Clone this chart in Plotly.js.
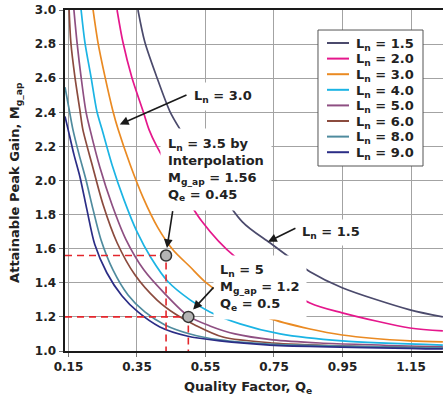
<!DOCTYPE html>
<html><head><meta charset="utf-8">
<script src="https://cdn.plot.ly/plotly-3.0.1.min.js"></script>
<style>html,body{margin:0;padding:0;background:#fff;} #chart{width:443px;height:401px;}</style>
</head><body><div id="chart"></div>
<script>
// Ln values (legend)
const lnNames = ['1.5', '2.0', '3.0', '4.0', '5.0', '6.0', '8.0', '9.0'];
const lnColors = ['#4b4a6c', '#e5178c', '#ea8a22', '#1bb4e4', '#8e4f82', '#8b4b3e', '#4f8b9e', '#2b2d86'];

// Quality factor Qe / attainable peak gain Mg_ap
const qe_15 = [0.353, 0.373, 0.408, 0.446, 0.476, 0.657, 0.738, 0.797, 0.855, 0.949, 1.147, 1.243];
const mg_15 = [3.0, 2.812, 2.606, 2.406, 2.300, 1.759, 1.635, 1.547, 1.465, 1.371, 1.241, 1.200];

const qe_20 = [0.292, 0.309, 0.335, 0.368, 0.385, 0.408, 0.540, 0.636, 0.855, 0.949, 1.147, 1.243];
const mg_20 = [3.0, 2.812, 2.606, 2.406, 2.300, 2.200, 1.759, 1.553, 1.282, 1.224, 1.135, 1.118];

const qe_30 = [0.222, 0.236, 0.257, 0.280, 0.295, 0.330, 0.368, 0.411, 0.455, 0.505, 0.549, 0.622, 0.733, 0.855, 0.949, 1.147, 1.243];
const mg_30 = [3.0, 2.812, 2.606, 2.406, 2.300, 2.094, 1.900, 1.724, 1.594, 1.494, 1.406, 1.300, 1.194, 1.129, 1.094, 1.059, 1.053];

const qe_40 = [0.187, 0.198, 0.216, 0.233, 0.248, 0.277, 0.312, 0.350, 0.391, 0.441, 0.505, 0.563, 0.651, 0.768, 0.949, 1.243];
const mg_40 = [3.0, 2.812, 2.606, 2.406, 2.300, 2.094, 1.888, 1.700, 1.547, 1.406, 1.300, 1.229, 1.159, 1.100, 1.059, 1.035];

const qe_50 = [0.166, 0.175, 0.187, 0.201, 0.213, 0.242, 0.277, 0.318, 0.370, 0.429, 0.499, 0.563, 0.636, 0.747, 0.884, 1.243];
const mg_50 = [3.0, 2.812, 2.606, 2.406, 2.300, 2.076, 1.859, 1.653, 1.476, 1.341, 1.206, 1.147, 1.100, 1.065, 1.047, 1.024];

const qe_60 = [0.152, 0.157, 0.169, 0.184, 0.192, 0.219, 0.251, 0.292, 0.344, 0.408, 0.461, 0.519, 0.601, 0.747, 0.972, 1.243];
const mg_60 = [3.0, 2.812, 2.606, 2.406, 2.300, 2.094, 1.859, 1.635, 1.447, 1.300, 1.218, 1.153, 1.082, 1.047, 1.029, 1.018];

const qe_80 = [0.140, 0.151, 0.163, 0.181, 0.201, 0.222, 0.245, 0.280, 0.324, 0.373, 0.432, 0.505, 0.592, 0.738, 1.243];
const mg_80 = [2.547, 2.429, 2.300, 2.153, 2.006, 1.829, 1.653, 1.476, 1.329, 1.229, 1.153, 1.100, 1.065, 1.041, 1.018];

const qe_90 = [0.140, 0.149, 0.166, 0.184, 0.204, 0.227, 0.262, 0.306, 0.353, 0.417, 0.496, 0.592, 0.738, 1.243];
const mg_90 = [2.376, 2.300, 2.153, 2.018, 1.829, 1.624, 1.459, 1.324, 1.229, 1.141, 1.088, 1.059, 1.035, 1.012];

// highlighted operating points
const pointQe = [0.435, 0.50];
const pointMg = [1.56, 1.20];

// axes
const xTicks = [0.15, 0.35, 0.55, 0.75, 0.95, 1.15];
const xTickText = ['0.15', '0.35', '0.55', '0.75', '0.95', '1.15'];
const yTicks = [1.0, 1.2, 1.4, 1.6, 1.8, 2.0, 2.2, 2.4, 2.6, 2.8, 3.0];
const xMin = 0.14, xMax = 1.2434, yMin = 1.0, yMax = 3.0;

const allQe = [qe_15, qe_20, qe_30, qe_40, qe_50, qe_60, qe_80, qe_90];
const allMg = [mg_15, mg_20, mg_30, mg_40, mg_50, mg_60, mg_80, mg_90];

const FONT = 'DejaVu Sans';
const TXT = '#222';

const traces = [];
for (let i = 0; i < lnNames.length; i++) {
  traces.push({
    type: 'scatter', mode: 'lines', showlegend: false,
    x: allQe[i], y: allMg[i],
    name: 'L<sub>n</sub> = ' + lnNames[i],
    line: {color: lnColors[i], width: 1.7, shape: 'spline', smoothing: 0.8}
  });
}
// red dashed guide lines
for (let k = 0; k < pointQe.length; k++) {
  traces.push({
    type: 'scatter', mode: 'lines', showlegend: false, hoverinfo: 'skip',
    x: [xMin, pointQe[k], pointQe[k]], y: [pointMg[k], pointMg[k], yMin],
    line: {color: '#e3262c', width: 1.6, dash: '7px,5px'}
  });
}
traces.push({
  type: 'scatter', mode: 'markers', showlegend: false,
  x: pointQe, y: pointMg,
  marker: {size: 11, color: '#b4b4b4', line: {color: '#333', width: 1.5}}
});

const tf = {family: FONT, size: 13, color: TXT, weight: 'bold'};
function label(x, y, text, xanchor, yanchor, pad) {
  return {x: x, y: y, xref: 'x', yref: 'y', text: text, showarrow: false,
    xanchor: xanchor, yanchor: yanchor, align: 'left', font: tf,
    bgcolor: '#ffffff', borderpad: pad};
}
function arrow(x, y, ax, ay) {
  return {x: x, y: y, ax: ax, ay: ay, xref: 'x', yref: 'y', axref: 'x', ayref: 'y',
    text: '', showarrow: true, arrowhead: 2, arrowsize: 1.1, arrowwidth: 1.6,
    arrowcolor: '#1a1a1a', standoff: 0, startstandoff: 0};
}

const annotations = [
  label(0.500, 2.494, 'L<sub>n</sub> = 3.0', 'left', 'middle', 5),
  label(0.418, 2.306, 'L<sub>n</sub> = 3.5 by<br>Interpolation<br>M<sub>g_ap</sub> = 1.56<br>Q<sub>e</sub> = 0.45', 'left', 'top', 7),
  label(0.818, 1.694, 'L<sub>n</sub> = 1.5', 'left', 'middle', 4),
  label(0.572, 1.565, 'L<sub>n</sub> = 5<br>M<sub>g_ap</sub> = 1.2<br>Q<sub>e</sub> = 0.5', 'left', 'top', 6),
  arrow(0.300, 2.329, 0.499, 2.506),
  arrow(0.4376, 1.604, 0.455, 1.829),
  arrow(0.7325, 1.641, 0.817, 1.724),
  arrow(0.514, 1.243, 0.5777, 1.382),
  {xref: 'paper', yref: 'paper', x: 0.483, y: -0.1085, xanchor: 'center', yanchor: 'middle',
   text: 'Quality Factor, Q<sub>e</sub>', showarrow: false, font: tf},
  {xref: 'paper', yref: 'paper', x: -0.1296, y: 0.493, xanchor: 'center', yanchor: 'middle',
   text: 'Attainable Peak Gain, M<sub>g_ap</sub>', textangle: -90, showarrow: false, font: tf}
];

// legend drawn as a boxed key (paper coordinates)
const legX0 = 0.6693, legX1 = 0.9471, legY0 = 0.5425, legY1 = 0.9413;
const legTop = 0.9032, legStep = 0.04575;
const shapes = [{type: 'rect', xref: 'paper', yref: 'paper', x0: legX0, x1: legX1, y0: legY0, y1: legY1,
  fillcolor: '#ffffff', line: {color: '#555', width: 1}, layer: 'above'}];
for (let i = 0; i < lnNames.length; i++) {
  const yy = legTop - legStep * i;
  shapes.push({type: 'line', xref: 'paper', yref: 'paper', x0: 0.6931, x1: 0.7513, y0: yy, y1: yy,
    line: {color: lnColors[i], width: 2}, layer: 'above'});
  annotations.push({xref: 'paper', yref: 'paper', x: 0.7646, y: yy - 0.004, xanchor: 'left', yanchor: 'middle',
    text: 'L<sub>n</sub> = ' + lnNames[i], showarrow: false, font: tf});
}

const layout = {
  width: 443, height: 401,
  margin: {l: 65, r: 0, t: 10, b: 50, pad: 0},
  paper_bgcolor: '#ffffff', plot_bgcolor: '#ffffff',
  showlegend: false,
  xaxis: {range: [xMin, xMax], tickmode: 'array', tickvals: xTicks, ticktext: xTickText,
    showgrid: true, gridcolor: '#a3a3a3', gridwidth: 1, zeroline: false,
    showline: true, linecolor: '#1a1a1a', linewidth: 2, mirror: true,
    ticks: 'outside', ticklen: 4, tickcolor: '#777',
    tickfont: {family: FONT, size: 12, color: TXT, weight: 'bold'}},
  yaxis: {range: [yMin, yMax], tickmode: 'array', tickvals: yTicks, tickformat: '.1f',
    showgrid: true, gridcolor: '#a3a3a3', gridwidth: 1, zeroline: false,
    showline: true, linecolor: '#1a1a1a', linewidth: 2.5,
    ticks: 'outside', ticklen: 4, tickcolor: '#777',
    tickfont: {family: FONT, size: 12, color: TXT, weight: 'bold'}},
  shapes: shapes,
  annotations: annotations
};

Plotly.newPlot('chart', traces, layout, {displayModeBar: false, staticPlot: true});
</script></body></html>
